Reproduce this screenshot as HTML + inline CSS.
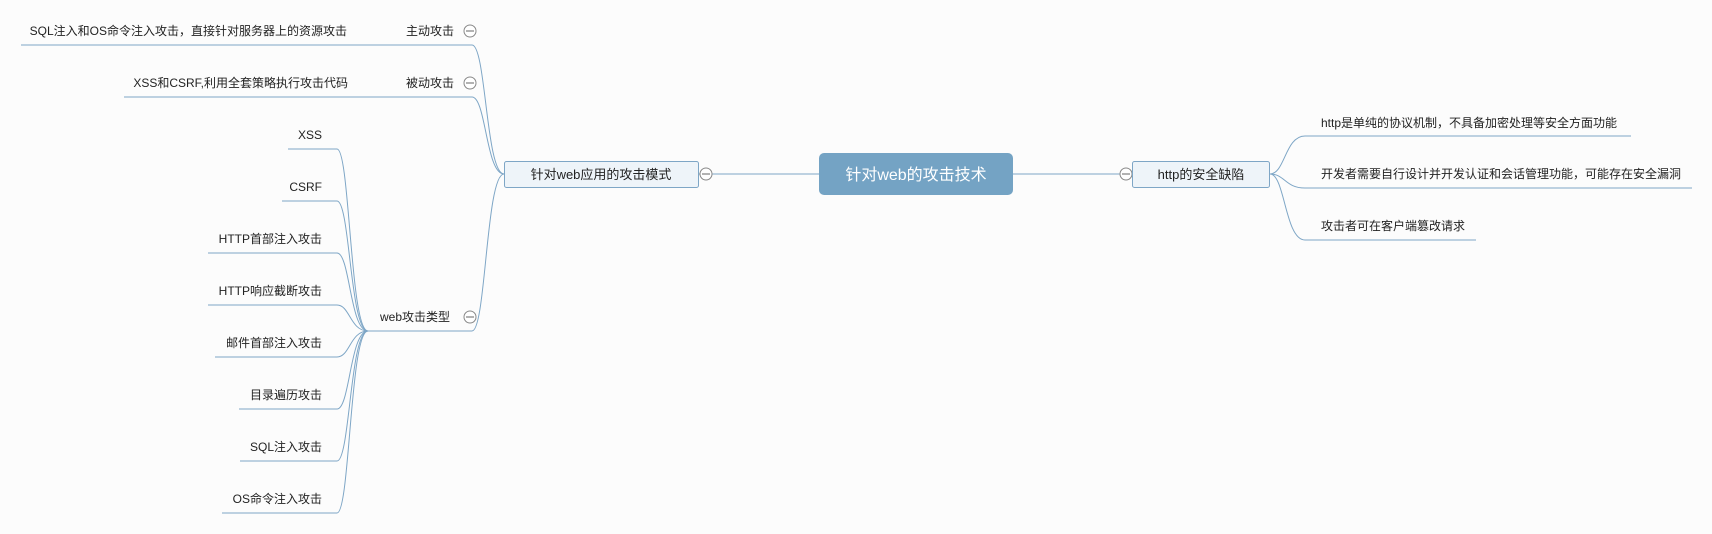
<!DOCTYPE html>
<html><head><meta charset="utf-8"><style>
body{margin:0;width:1712px;height:534px;background:#fcfcfc;overflow:hidden;font-family:"Liberation Sans","Noto Sans CJK SC",sans-serif;}
svg{position:absolute;left:0;top:0}
svg text{font-family:"Liberation Sans","Noto Sans CJK SC",sans-serif;font-size:12px;fill:#222}
</style></head><body>
<svg width="1712" height="534" viewBox="0 0 1712 534">
<g fill="none" stroke="#7ea6c6" stroke-width="1">
<path d="M21 45H472C486 45 486 174 504 174"/>
<path d="M124 97H472C486 97 486 174 504 174"/>
<path d="M368 331H472C486 331 486 174 504 174"/>
<path d="M699 174H819"/>
<path d="M1013 174H1132"/>
<g>
<path d="M288 149H337C350 149 350 331 368 331"/>
<path d="M282 201H337C350 201 350 331 368 331"/>
<path d="M208 253H337C350 253 350 331 368 331"/>
<path d="M208 305H337C350 305 350 331 368 331"/>
<path d="M215 357H337C350 357 350 331 368 331"/>
<path d="M239 409H337C350 409 350 331 368 331"/>
<path d="M240 461H337C350 461 350 331 368 331"/>
<path d="M222 513H337C350 513 350 331 368 331"/>
</g>
<path d="M1270 174C1285 174 1285 136 1305 136H1631"/>
<path d="M1270 174C1285 174 1285 188 1305 188H1692"/>
<path d="M1270 174C1285 174 1285 240 1305 240H1476"/>
</g>
<g fill="#fff" stroke="#888" stroke-width="1">
<circle cx="470" cy="31" r="6"/><circle cx="470" cy="83" r="6"/><circle cx="470" cy="317" r="6"/>
<circle cx="706" cy="174" r="6"/><circle cx="1126" cy="174" r="6"/>
</g>
<g stroke="#666"><path d="M466 31H474M466 83H474M466 317H474M702 174H710M1122 174H1130"/></g>
<rect x="504.5" y="161.5" width="194" height="26" rx="2" fill="#eef4f9" stroke="#7ea6c6"/>
<rect x="1132.5" y="161.5" width="137" height="26" rx="2" fill="#eef4f9" stroke="#7ea6c6"/>
<rect x="819" y="153" width="194" height="42" rx="5" fill="#74a3c4"/>
<text x="916" y="180" text-anchor="middle" style="font-size:16px;fill:#fff">针对web的攻击技术</text>
<text x="601" y="179" text-anchor="middle" style="font-size:13px">针对web应用的攻击模式</text>
<text x="1201" y="179" text-anchor="middle" style="font-size:13px">http的安全缺陷</text>
<text x="347" y="35" text-anchor="end">SQL注入和OS命令注入攻击，直接针对服务器上的资源攻击</text>
<text x="454" y="35" text-anchor="end">主动攻击</text>
<text x="348" y="87" text-anchor="end">XSS和CSRF,利用全套策略执行攻击代码</text>
<text x="454" y="87" text-anchor="end">被动攻击</text>
<text x="450" y="321" text-anchor="end">web攻击类型</text>
<g text-anchor="end">
<text x="322" y="139">XSS</text>
<text x="322" y="191">CSRF</text>
<text x="322" y="243">HTTP首部注入攻击</text>
<text x="322" y="295">HTTP响应截断攻击</text>
<text x="322" y="347">邮件首部注入攻击</text>
<text x="322" y="399">目录遍历攻击</text>
<text x="322" y="451">SQL注入攻击</text>
<text x="322" y="503">OS命令注入攻击</text>
</g>
<text x="1321" y="127">http是单纯的协议机制，不具备加密处理等安全方面功能</text>
<text x="1321" y="178">开发者需要自行设计并开发认证和会话管理功能，可能存在安全漏洞</text>
<text x="1321" y="230">攻击者可在客户端篡改请求</text>
</svg>
</body></html>
